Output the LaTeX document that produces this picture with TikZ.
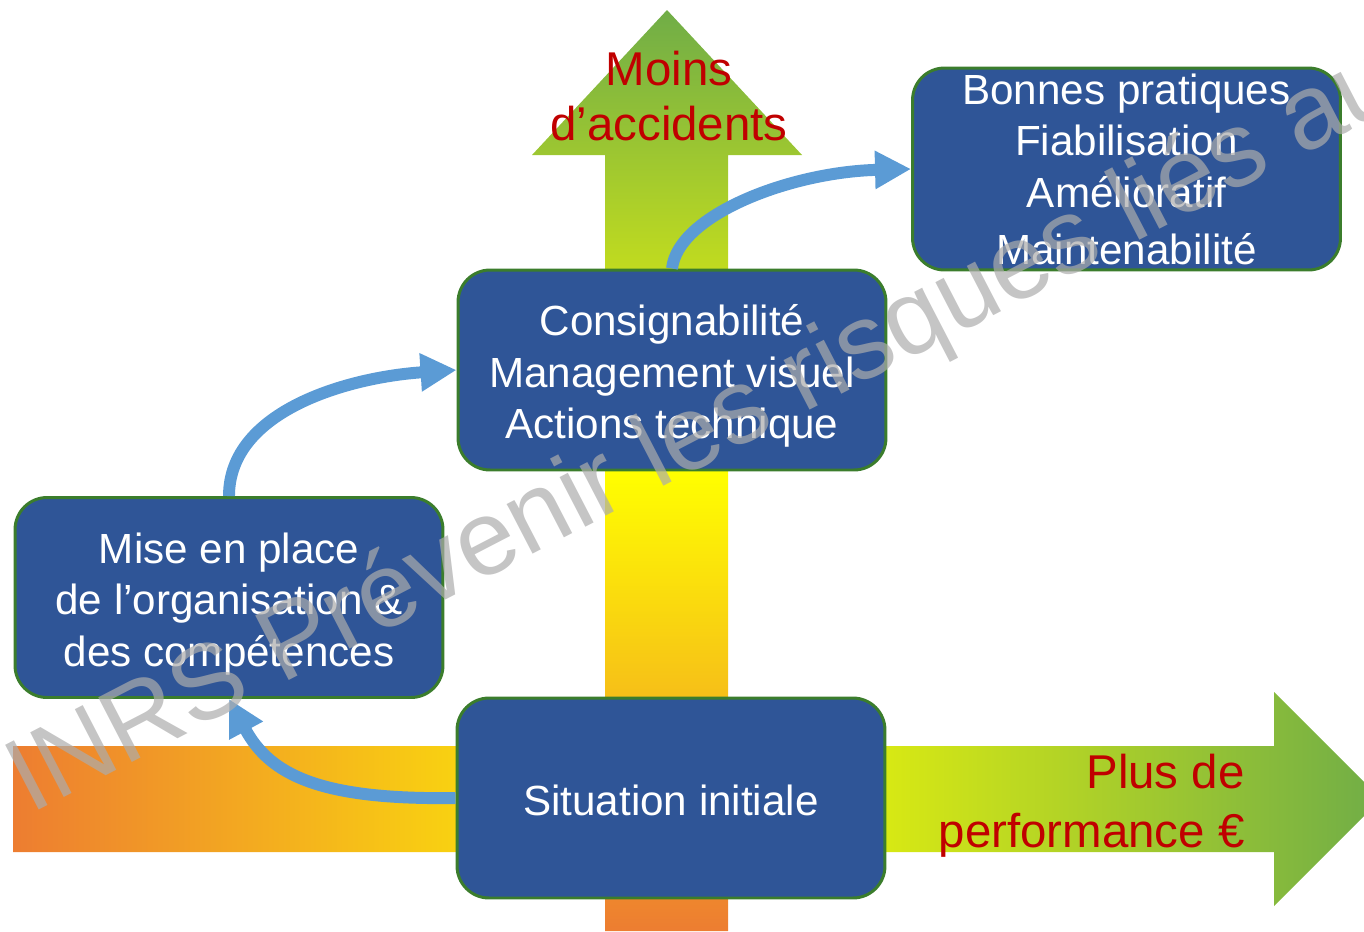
\documentclass[tikz,border=0pt]{standalone}
\usepackage{fontspec}
\setmainfont{Liberation Sans}
\usetikzlibrary{arrows.meta}
\definecolor{boxblue}{HTML}{2F5597}
\definecolor{boxgreen}{HTML}{3B7D2C}
\definecolor{flowblue}{HTML}{5B9BD5}
\definecolor{warmorange}{HTML}{ED7D31}
\definecolor{brightyellow}{HTML}{FFFF00}
\definecolor{leafgreen}{HTML}{70AD47}
\definecolor{alertred}{HTML}{C00000}
\definecolor{markgray}{HTML}{ACACAC}
\begin{document}
\begin{tikzpicture}[x=0.02cm,y=-0.02cm,
  stagebox/.style={draw=boxgreen, line width=1.7pt, fill=boxblue,
    rounded corners=0.64cm, minimum width=8.56cm, minimum height=4cm,
    inner sep=0pt},
  stagetext/.style={text=white, align=center, inner sep=0pt,
    font=\fontsize{24}{29.5}\selectfont},
  flow/.style={draw=flowblue, line width=6.8pt,
    -{Triangle[length=20.5pt,width=20.5pt]}},
  goal/.style={text=alertred, inner sep=0pt, font=\fontsize{27}{31}\selectfont},
  stamp/.style={text=markgray, text opacity=0.7, inner sep=0pt,
    font=\fontsize{60.3}{62}\selectfont},
]
\useasboundingbox (0,0) rectangle (1364,931);
\clip (0,0) rectangle (1364,931);

% the two broad axis arrows
\shade[top color=leafgreen, bottom color=warmorange, middle color=brightyellow]
  (605,931) -- (605,155) -- (532,155) -- (667,10) -- (802,155)
  -- (728,155) -- (728,931) -- cycle;
\shade[left color=warmorange, right color=leafgreen, middle color=brightyellow]
  (13,746) -- (1274,746) -- (1274,692) -- (1381,799) -- (1274,906)
  -- (1274,852) -- (13,852) -- cycle;

% axis labels
\node[goal, anchor=base] (moins) at (669,85) {Moins};
\node[goal, anchor=base] (accid) at (669,140) {d’accidents};
\node[goal, anchor=base east] (plus) at (1245,788) {Plus de};
\node[goal, anchor=base east] (perf) at (1245,847) {performance €};

% stages: rounded boxes and their captions
\node[stagebox] (sit) at (671,798) {};
\node[stagebox] (mise) at (229,597.5) {};
\node[stagebox] (cons) at (672,370) {};
\node[stagebox, minimum height=4.04cm] (bon) at (1126.5,169) {};

\node[stagetext] (sitT) at ([yshift=-1.2pt]sit.center) {Situation initiale};
\node[stagetext] (miseT) at ([yshift=-3.7pt]mise.center)
  {Mise en place\\de l’organisation \&\\des compétences};
\node[stagetext] (consT) at ([yshift=-3.4pt]cons.center)
  {Consignabilité\\Management visuel\\Actions technique};
\node[stagetext] (bonT) at (bon.center)
  {Bonnes pratiques\\Fiabilisation\\Amélioratif\\[2.5pt]Maintenabilité};

% progression arrows
\draw[flow] (sit.west) .. controls (320,800) and (270,775) .. (mise.south);
\draw[flow] (mise.north) .. controls (229,410) and (350,377) .. (cons.west);
\draw[flow] (cons.north) .. controls (678,215) and (790,172) .. (bon.west);

% watermark
\node[stamp, rotate=27.4, anchor=base west] (mark) at (30,815)
  {INRS Prévenir les risques liés au};
\end{tikzpicture}
\end{document}
